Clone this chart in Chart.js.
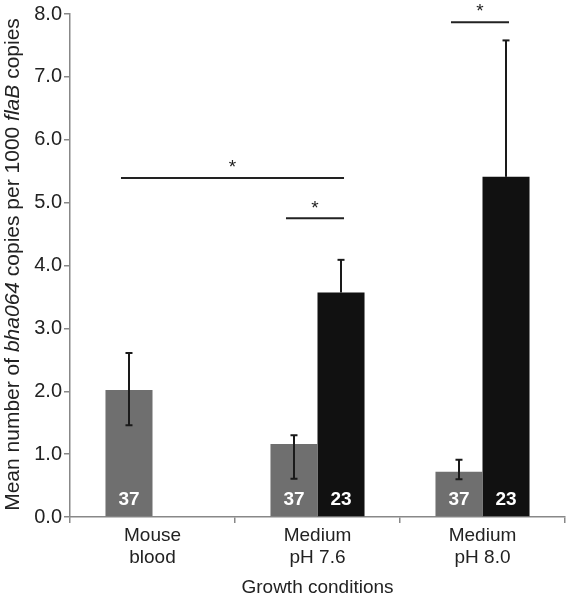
<!DOCTYPE html>
<html>
<head>
<meta charset="utf-8">
<script src="https://cdn.jsdelivr.net/npm/chart.js@4"></script>
<style>
html,body{margin:0;padding:0;background:#fff;}
#wrap{width:566px;height:599px;}
</style>
</head>
<body>
<div id="wrap"><canvas id="c" width="566" height="599"></canvas></div>
<script>
// ---- data ----
const categories = [["Mouse", "blood"], ["Medium", "pH 7.6"], ["Medium", "pH 8.0"]];
const grayValues = [2.02, 1.16, 0.72];
const blackValues = [null, 3.57, 5.41];
const grayErrHigh = [2.61, 1.30, 0.91];
const grayErrLow = [1.46, 0.61, 0.60];
const blackErrHigh = [null, 4.09, 7.58];
const blackErrLow = [null, null, null];
const grayN = ["37", "37", "37"];
const blackN = [null, "23", "23"];
const yTicks = [0, 1, 2, 3, 4, 5, 6, 7, 8];
// significance brackets: [fromDataset, fromIndex], [toDataset, toIndex], level
const sigFrom = [[0, 0], [0, 1], [0, 2]];
const sigTo = [[1, 1], [1, 1], [1, 2]];
const sigLevel = [5.39, 4.75, 7.87];

const FONT = "'Liberation Sans', Arial, Helvetica, sans-serif";
const errs = [[grayErrLow, grayErrHigh], [blackErrLow, blackErrHigh]];
const nLabels = [grayN, blackN];

const overlay = {
  id: 'overlay',
  afterDatasetsDraw(chart) {
    const ctx = chart.ctx;
    const y = chart.scales.y;
    ctx.save();
    // error bars
    ctx.strokeStyle = '#1a1a1a';
    ctx.lineWidth = 2;
    for (let d = 0; d < 2; d++) {
      const meta = chart.getDatasetMeta(d);
      const vals = chart.data.datasets[d].data;
      meta.data.forEach((bar, i) => {
        if (vals[i] == null) return;
        const x = bar.x;
        const hi = errs[d][1][i];
        const lo = errs[d][0][i];
        const top = hi != null ? y.getPixelForValue(hi) : y.getPixelForValue(vals[i]);
        const bot = lo != null ? y.getPixelForValue(lo) : y.getPixelForValue(vals[i]);
        ctx.beginPath();
        ctx.moveTo(x, top); ctx.lineTo(x, bot);
        ctx.stroke();
        ctx.beginPath();
        if (hi != null) { ctx.moveTo(x - 3.5, top); ctx.lineTo(x + 3.5, top); }
        if (lo != null) { ctx.moveTo(x - 3.5, bot); ctx.lineTo(x + 3.5, bot); }
        ctx.stroke();
      });
    }
    // n labels
    ctx.fillStyle = '#ffffff';
    ctx.font = "bold 19px " + FONT;
    ctx.textAlign = 'center';
    ctx.textBaseline = 'middle';
    for (let d = 0; d < 2; d++) {
      const meta = chart.getDatasetMeta(d);
      meta.data.forEach((bar, i) => {
        const t = nLabels[d][i];
        if (t == null) return;
        ctx.fillText(t, bar.x, chart.chartArea.bottom - 17);
      });
    }
    // significance brackets
    ctx.strokeStyle = '#222';
    ctx.lineWidth = 2;
    ctx.fillStyle = '#222';
    ctx.font = "19px " + FONT;
    sigLevel.forEach((lv, k) => {
      const a = chart.getDatasetMeta(sigFrom[k][0]).data[sigFrom[k][1]];
      const b = chart.getDatasetMeta(sigTo[k][0]).data[sigTo[k][1]];
      const x1 = a.x - 8, x2 = b.x + 3;
      const py = y.getPixelForValue(lv);
      ctx.beginPath();
      ctx.moveTo(x1, py); ctx.lineTo(x2, py);
      ctx.stroke();
      ctx.fillText('*', (x1 + x2) / 2, py - 10);
    });
    ctx.restore();
  },
  afterDraw(chart) {
    // y-axis title with italic gene names
    const ctx = chart.ctx;
    const parts = [
      ["Mean number of ", false], ["bha064", true], [" copies per 1000 ", false],
      ["flaB", true], [" copies", false]
    ];
    const size = 21;
    ctx.save();
    let total = 0;
    parts.forEach(p => {
      ctx.font = (p[1] ? "italic " : "") + size + "px " + FONT;
      total += ctx.measureText(p[0]).width;
    });
    const cy = (chart.chartArea.top + chart.chartArea.bottom) / 2 - 1;
    ctx.translate(13, cy);
    ctx.rotate(-Math.PI / 2);
    ctx.fillStyle = '#222';
    ctx.textBaseline = 'middle';
    ctx.textAlign = 'left';
    let x = -total / 2;
    parts.forEach(p => {
      ctx.font = (p[1] ? "italic " : "") + size + "px " + FONT;
      ctx.fillText(p[0], x, 0);
      x += ctx.measureText(p[0]).width;
    });
    ctx.restore();
  }
};

new Chart(document.getElementById('c'), {
  type: 'bar',
  data: {
    labels: categories,
    datasets: [
      { label: 'gray', data: grayValues, backgroundColor: '#6f6f6f', borderWidth: 0,
        categoryPercentage: 0.57, barPercentage: 1.0 },
      { label: 'black', data: blackValues, backgroundColor: '#111111', borderWidth: 0,
        categoryPercentage: 0.57, barPercentage: 1.0 }
    ]
  },
  options: {
    responsive: false,
    animation: false,
    devicePixelRatio: 1,
    layout: { padding: { top: 8, right: 1, left: 0, bottom: 0 } },
    plugins: { legend: { display: false }, tooltip: { enabled: false } },
    scales: {
      x: {
        grid: { display: true, drawOnChartArea: false, offset: true, tickLength: 6, color: '#888', lineWidth: 1.5 },
        border: { color: '#888', width: 1.5 },
        ticks: { color: '#222', font: { family: FONT, size: 19, lineHeight: 1.2 }, padding: 1, maxRotation: 0 },
        title: { display: true, text: 'Growth conditions', color: '#222', font: { family: FONT, size: 19 }, padding: { top: 2, bottom: 0 } },
        afterFit(s) { s.height = 82; }
      },
      y: {
        min: 0, max: 8,
        afterBuildTicks(s) { s.ticks = yTicks.map(v => ({ value: v })); },
        grid: { display: true, drawOnChartArea: false, tickLength: 6, color: '#888', lineWidth: 1.5 },
        border: { color: '#888', width: 1.5 },
        ticks: { color: '#222', font: { family: FONT, size: 20 }, padding: 2,
          callback: v => Number(v).toFixed(1) },
        afterFit(s) { s.width = 70; }
      }
    }
  },
  plugins: [overlay]
});
</script>
</body>
</html>
